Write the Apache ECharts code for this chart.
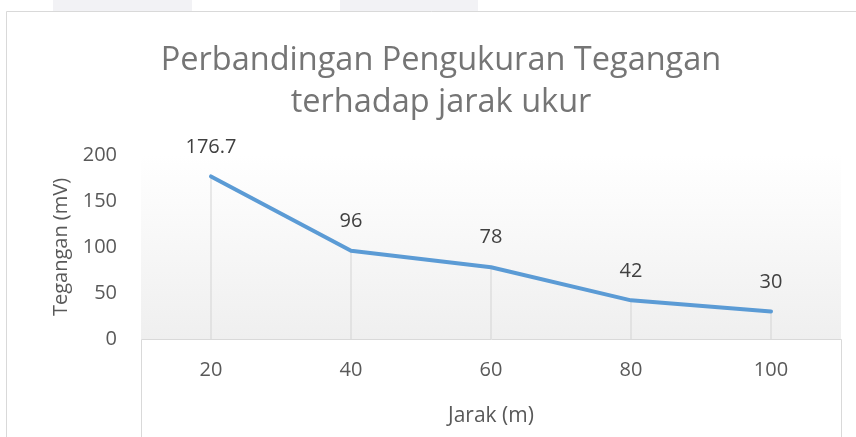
<!DOCTYPE html>
<html>
<head>
<meta charset="utf-8">
<script src="https://cdn.jsdelivr.net/npm/echarts@6/dist/echarts.min.js"></script>
<style>
  html, body { margin: 0; padding: 0; background: #fff; }
  #chart { width: 856px; height: 437px; }
</style>
</head>
<body>
<div id="chart"></div>
<script>
// data
const jarak = ['20', '40', '60', '80', '100'];
const tegangan = [176.7, 96, 78, 42, 30];
const yTicks = [0, 50, 100, 150, 200];

const FONT = '"Open Sans", sans-serif';

const chart = echarts.init(document.getElementById('chart'));

const option = {
  animation: false,
  backgroundColor: '#fff',
  graphic: [
    // faint tabs above the chart frame
    { type: 'rect', shape: { x: 53, y: 0, width: 139, height: 11 }, style: { fill: '#f2f2f5' }, z: -1 },
    { type: 'rect', shape: { x: 340, y: 0, width: 138, height: 11 }, style: { fill: '#f2f2f5' }, z: -1 },
    // chart frame
    { type: 'rect', shape: { x: 6.5, y: 11.5, width: 900, height: 500 }, style: { fill: 'none', stroke: '#d9d9d9', lineWidth: 1 }, z: -1 },
    // category axis box
    { type: 'rect', shape: { x: 141.5, y: 339.5, width: 700, height: 200 }, style: { fill: '#fff', stroke: '#d9d9d9', lineWidth: 1 }, z: 0 },
    // title (centred on the frame, not on the page)
    {
      type: 'text',
      x: 441,
      y: 40,
      style: {
        text: 'Perbandingan Pengukuran Tegangan\nterhadap jarak ukur',
        align: 'center',
        verticalAlign: 'top',
        fontFamily: FONT,
        fontSize: 32.5,
        lineHeight: 42,
        fill: '#757575',
      },
      z: 10,
    },
  ],
  grid: {
    left: 141,
    right: 15,
    top: 155,
    bottom: 98,
    show: true,
    borderWidth: 0,
    backgroundColor: new echarts.graphic.LinearGradient(0, 0, 0, 1, [
      { offset: 0, color: '#ffffff' },
      { offset: 1, color: '#efefef' },
    ]),
  },
  xAxis: {
    type: 'category',
    data: jarak,
    boundaryGap: true,
    name: 'Jarak (m)',
    nameLocation: 'middle',
    nameGap: 67,
    nameTextStyle: { fontFamily: FONT, fontSize: 21, color: '#595959' },
    axisLine: { show: false },
    axisTick: { show: false },
    axisLabel: { fontFamily: FONT, fontSize: 20, color: '#595959', margin: 21 },
    splitLine: { show: false },
    z: 5,
  },
  yAxis: {
    type: 'value',
    min: 0,
    max: yTicks[yTicks.length - 1],
    interval: yTicks[1] - yTicks[0],
    name: 'Tegangan (mV)',
    nameLocation: 'middle',
    nameGap: 70,
    nameTextStyle: { fontFamily: FONT, fontSize: 20, color: '#595959' },
    axisLine: { show: false },
    axisTick: { show: false },
    axisLabel: { fontFamily: FONT, fontSize: 20, color: '#595959', margin: 24 },
    splitLine: { show: false },
  },
  series: [
    {
      // drop lines
      type: 'bar',
      data: tegangan,
      barWidth: 1,
      itemStyle: { color: '#d4d4d4' },
      silent: true,
      z: 1,
    },
    {
      type: 'line',
      data: tegangan,
      symbol: 'circle',
      symbolSize: 1,
      itemStyle: { color: '#5b9bd5', opacity: 0 },
      lineStyle: { color: '#5b9bd5', width: 4, cap: 'round', join: 'round' },
      label: {
        show: true,
        position: 'top',
        distance: 19,
        fontFamily: FONT,
        fontSize: 20,
        color: '#404040',
        opacity: 1,
      },
      z: 3,
    },
  ],
};

chart.setOption(option);
</script>
</body>
</html>
